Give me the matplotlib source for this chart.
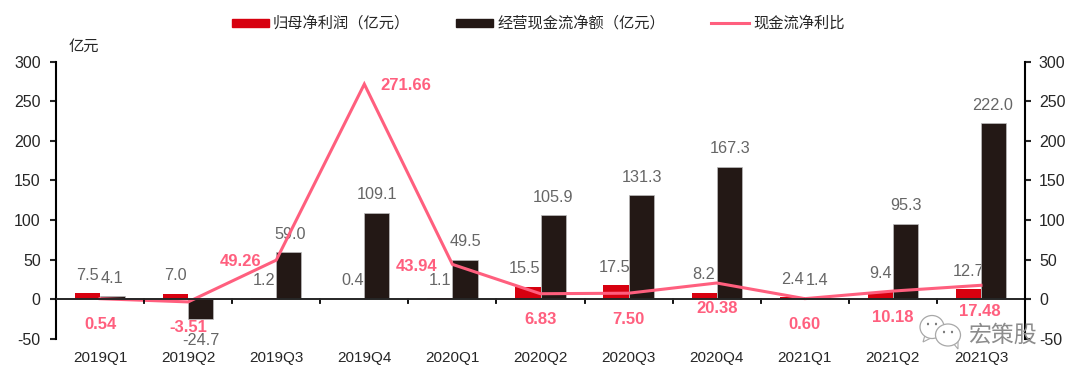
import matplotlib
matplotlib.use("Agg")
import matplotlib.pyplot as plt
from matplotlib.patches import Ellipse, Polygon, Rectangle
from matplotlib.lines import Line2D

plt.rcParams['font.family'] = ['Liberation Sans', 'Noto Sans CJK SC', 'DejaVu Sans']
plt.rcParams['axes.unicode_minus'] = False

categories = ['2019Q1', '2019Q2', '2019Q3', '2019Q4', '2020Q1', '2020Q2',
              '2020Q3', '2020Q4', '2021Q1', '2021Q2', '2021Q3']
net_profit = [7.5, 7.0, 1.2, 0.4, 1.1, 15.5, 17.5, 8.2, 2.4, 9.4, 12.7]
op_cash = [4.1, -24.7, 59.0, 109.1, 49.5, 105.9, 131.3, 167.3, 1.4, 95.3, 222.0]
ratio = [0.54, -3.51, 49.26, 271.66, 43.94, 6.83, 7.50, 20.38, 0.60, 10.18, 17.48]

profit_label_xy = [(-13, 18), (-13, 18), (-12, 18), (-12, 18), (-12, 18), (-16, 18), (-14, 18), (-13, 18), (-12, 18), (-12, 18), (-12, 18)]
cash_label_xy = [(12, 17), (13, -41), (14, 18), (13, 18), (13, 18), (13, 18), (13, 18), (13, 18), (12, 18), (13, 18), (12, 18)]
ratio_label_xy = [(0, -26), (0, -26), (-36, -1), (41, -1), (-36, -2), (0, -26), (0, -26), (0, -26), (0, -26), (0, -26), (-1, -26)]

W, H = 1080, 378
fig = plt.figure(figsize=(W / 100, H / 100), dpi=100)
ax = fig.add_axes([56 / W, 1 - 338.7 / H, (1025 - 56) / W, (338.7 - 61.7) / H])

RED = '#D7000F'
BLACK = '#231815'
PINK = '#FF5F7E'
GREY = '#666666'
DARK = '#262626'

xs = list(range(len(categories)))
bw = 0.285
ax.bar([x - bw / 2 for x in xs], net_profit, bw, color=RED, zorder=2)
ax.bar([x + bw / 2 for x in xs], op_cash, bw, color=BLACK, edgecolor='#BDBDBD', linewidth=0.5, zorder=2)
ax.plot(xs, ratio, color=PINK, lw=2.2, zorder=3, solid_joinstyle='miter')

ax.set_xlim(-0.5, len(categories) - 0.5)
ax.set_ylim(-50, 300)
ax.set_yticks(range(-50, 301, 50))
ax.tick_params(axis='y', labelsize=11.5, colors=DARK, length=4, width=1.5, pad=7)
ax.set_xticks(xs)
ax.set_xticklabels(categories)
ax.tick_params(axis='x', length=0, labelsize=11, colors=DARK, pad=9)
for x in xs[:-1]:
    ax.plot([x + 0.5, x + 0.5], [0, -5], color='black', lw=1.3, zorder=4, clip_on=False)

for s in ('top', 'right', 'bottom'):
    ax.spines[s].set_visible(False)
ax.spines['left'].set_linewidth(1.5)
ax.axhline(0, color='#262626', lw=1.4, zorder=4)

ax2 = ax.twinx()
ax2.set_ylim(-50, 300)
ax2.set_yticks(range(-50, 301, 50))
ax2.tick_params(axis='y', labelsize=11.5, colors=DARK, length=4, width=1.5, pad=6)
for s in ('top', 'left', 'bottom'):
    ax2.spines[s].set_visible(False)
ax2.spines['right'].set_linewidth(1.5)

# Profit labels sit behind the black bars, which clip them as in the reference
for x, v, o in zip(xs, net_profit, profit_label_xy):
    ax.annotate(f'{v:.1f}', (x, max(v, 0)), xytext=o, textcoords='offset pixels', ha='center', va='center',
                fontsize=11.7, color=GREY, zorder=1, annotation_clip=False)
for x, v, o in zip(xs, op_cash, cash_label_xy):
    ax.annotate(f'{v:.1f}', (x, max(v, 0)), xytext=o, textcoords='offset pixels', ha='center', va='center',
                fontsize=11.7, color=GREY, zorder=2.5, annotation_clip=False)
for x, v, o in zip(xs, ratio, ratio_label_xy):
    ax.annotate(f'{v:.2f}', (x, v), xytext=o, textcoords='offset pixels', ha='center', va='center',
                fontsize=12, color=PINK, fontweight='bold', zorder=5, annotation_clip=False)

fig.text(69 / W, 1 - 46.7 / H, '亿元', fontsize=11, color=DARK, ha='left', va='center')

# legend row
def fx(v):
    return v / W

def fy(v):
    return 1 - v / H

fig.add_artist(Rectangle((fx(232), fy(26.7)), 37 / W, 7.7 / H, transform=fig.transFigure, color=RED))
fig.add_artist(Rectangle((fx(456), fy(26.7)), 37 / W, 7.7 / H, transform=fig.transFigure, color=BLACK))
fig.add_artist(Line2D([fx(711), fx(749)], [fy(23)] * 2, color=PINK, lw=2.2, transform=fig.transFigure))
fig.text(fx(273), fy(22.7), '归母净利润（亿元）', fontsize=11, color=DARK, ha='left', va='center')
fig.text(fx(497.5), fy(22.7), '经营现金流净额（亿元）', fontsize=11, color=DARK, ha='left', va='center')
fig.text(fx(753), fy(22.7), '现金流净利比', fontsize=11, color=DARK, ha='left', va='center')

# WeChat watermark
MARK = '#A8A8A8'
for cx, cy, w, h, tail in [(932, 327, 24, 23, [(925, 335), (923, 342), (931, 338)]),
                           (948, 335, 25, 22, [(953, 343), (958, 349), (958, 341)])]:
    fig.add_artist(Polygon([(fx(a), fy(b)) for a, b in tail], transform=fig.transFigure,
                           facecolor='white', edgecolor=MARK, lw=0.8, zorder=6))
    fig.add_artist(Ellipse((fx(cx), fy(cy)), w / W, h / H, transform=fig.transFigure,
                           facecolor='white', edgecolor=MARK, lw=0.9, zorder=6))
    for d in (-4, 4):
        fig.add_artist(Ellipse((fx(cx + d), fy(cy - 3)), 2.2 / W, 2.6 / H, transform=fig.transFigure,
                               facecolor='#777777', edgecolor='none', zorder=6))
fig.text(fx(968), fy(335), '宏策股', fontsize=16.5, color='#8C8C8C', ha='left', va='center', zorder=7)

fig.savefig('out.png', dpi=100)
